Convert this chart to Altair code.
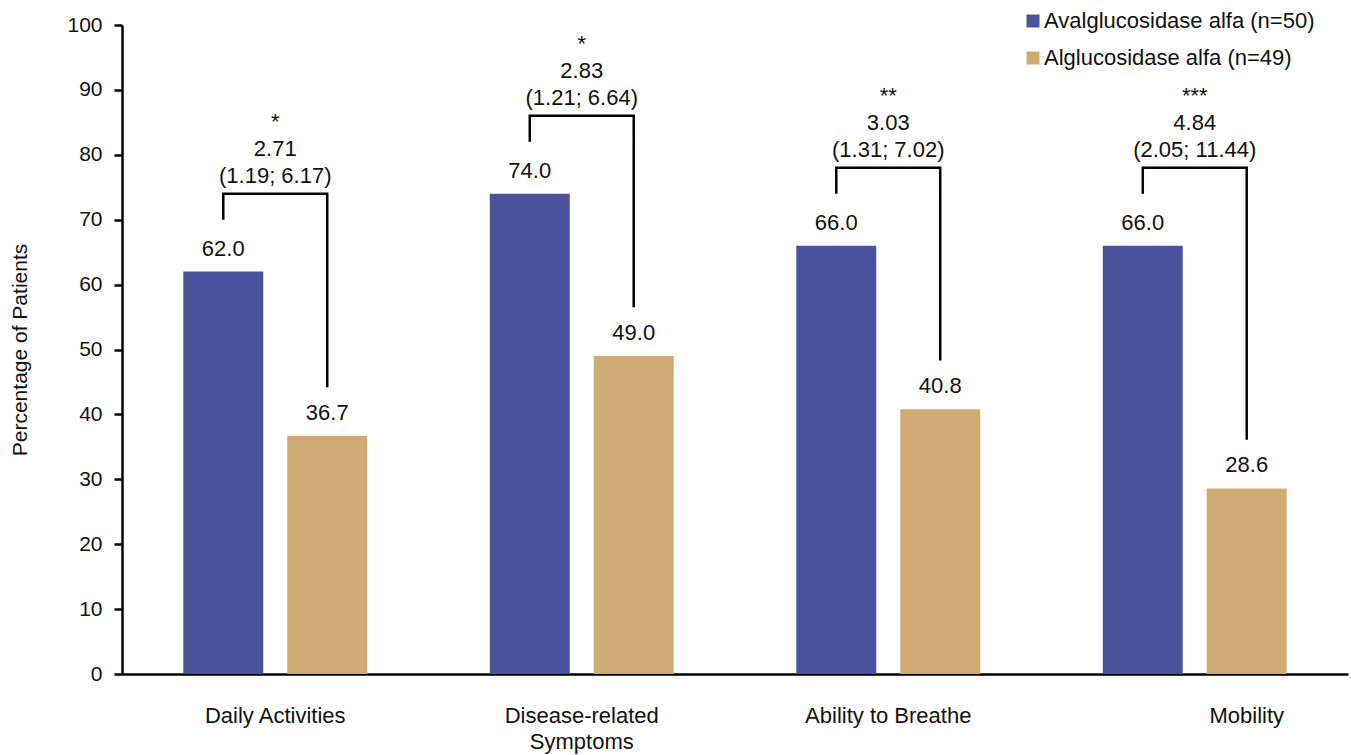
import altair as alt
import pandas as pd

# Responder rates by domain for the two treatment arms
categories = ["Daily Activities", "Disease-related Symptoms", "Ability to Breathe", "Mobility"]
category_lines = [["Daily Activities"], ["Disease-related", "Symptoms"], ["Ability to Breathe"], ["Mobility"]]
groups = ["Avalglucosidase alfa (n=50)", "Alglucosidase alfa (n=49)"]
aval_pct = [62.0, 74.0, 66.0, 66.0]
alg_pct = [36.7, 49.0, 40.8, 28.6]
odds_ratio = ["2.71", "2.83", "3.03", "4.84"]
conf_int = ["(1.19; 6.17)", "(1.21; 6.64)", "(1.31; 7.02)", "(2.05; 11.44)"]
stars = ["*", "*", "**", "***"]
colors = ["#4B529C", "#CFAA72"]

FONT = "Liberation Sans"
W, H = 1226, 649

# long table for the bars
bars_df = pd.DataFrame(
    [{"category": c, "group": groups[0], "pct": a} for c, a in zip(categories, aval_pct)]
    + [{"category": c, "group": groups[1], "pct": b} for c, b in zip(categories, alg_pct)]
)

# bracket paths: up from the first bar, across, down to the second bar
bracket_rows = []
for c, a, b in zip(categories, aval_pct, alg_pct):
    top = a + 12
    bracket_rows += [
        {"category": c, "group": groups[0], "pct": a + 8, "ord": 0},
        {"category": c, "group": groups[0], "pct": top, "ord": 1},
        {"category": c, "group": groups[1], "pct": top, "ord": 2},
        {"category": c, "group": groups[1], "pct": b + 7.5, "ord": 3},
    ]
bracket_df = pd.DataFrame(bracket_rows)

annot_df = pd.DataFrame({
    "category": categories,
    "pct": [a + 12 for a in aval_pct],
    "stars": stars,
    "or": odds_ratio,
    "ci": conf_int,
})

label_df = pd.DataFrame({"category": categories, "lines": category_lines, "group": groups[1]})

x_scale = alt.Scale(domain=categories, paddingInner=0.4, paddingOuter=0.2)
xo_scale = alt.Scale(domain=groups, paddingInner=0.231, paddingOuter=0)
y_scale = alt.Scale(domain=[0, 100], nice=False)

x_enc = alt.X("category:N", scale=x_scale,
              axis=alt.Axis(title=None, labels=False, ticks=False, domainColor="black", domainWidth=2.5))
x_plain = alt.X("category:N", scale=x_scale)
xo_enc = alt.XOffset("group:N", scale=xo_scale)
y_plain = alt.Y("pct:Q", scale=y_scale)

bars = alt.Chart(bars_df).mark_bar().encode(
    x=x_enc,
    xOffset=xo_enc,
    y=alt.Y("pct:Q", scale=y_scale,
            axis=alt.Axis(title="Percentage of Patients", values=list(range(0, 101, 10)),
                          grid=False, domainColor="black", domainWidth=2.5,
                          tickColor="black", tickWidth=2.5, tickSize=8,
                          labelFontSize=21, labelColor="#111", labelPadding=12, labelFont=FONT,
                          titleFontSize=21, titleFont=FONT, titleFontWeight="normal",
                          titleColor="#111", titlePadding=36)),
    color=alt.Color("group:N", scale=alt.Scale(domain=groups, range=colors),
                    legend=alt.Legend(title=None, orient="none", legendX=900, legendY=-15,
                                      symbolType="square", symbolSize=169, symbolStrokeWidth=0,
                                      labelFontSize=22, labelFont=FONT, labelColor="#111",
                                      labelOffset=0, rowPadding=15, padding=0, labelLimit=400)),
)

bar_labels = alt.Chart(bars_df).mark_text(
    fontSize=22, font=FONT, color="#111", baseline="middle", dy=-23
).encode(x=x_plain, xOffset=xo_enc, y=y_plain, text=alt.Text("pct:Q", format=".1f"))

brackets = alt.Chart(bracket_df).mark_line(
    color="black", strokeWidth=2.5, strokeJoin="miter", strokeCap="butt"
).encode(x=x_plain, xOffset=xo_enc, y=y_plain, order="ord:Q", detail="category:N")

ci_text = alt.Chart(annot_df).mark_text(
    fontSize=22, font=FONT, color="#111", baseline="middle", dy=-18
).encode(x=x_plain, y=y_plain, text="ci:N")

or_text = alt.Chart(annot_df).mark_text(
    fontSize=22, font=FONT, color="#111", baseline="middle", dy=-45
).encode(x=x_plain, y=y_plain, text="or:N")

star_text = alt.Chart(annot_df).mark_text(
    fontSize=22, font=FONT, color="#111", baseline="middle", dy=-72
).encode(x=x_plain, y=y_plain, text="stars:N")

# domain names under the axis; the last one sits under its second bar
cat_text = alt.Chart(label_df).transform_filter(
    alt.datum.category != categories[-1]
).mark_text(
    fontSize=22, font=FONT, color="#111", baseline="middle", lineHeight=26
).encode(x=x_plain, y=alt.value(H + 42), text="lines")

cat_text_last = alt.Chart(label_df).transform_filter(
    alt.datum.category == categories[-1]
).mark_text(
    fontSize=22, font=FONT, color="#111", baseline="middle", lineHeight=26
).encode(x=x_plain, xOffset=xo_enc, y=alt.value(H + 42), text="lines")

chart = alt.layer(
    bars, bar_labels, brackets, ci_text, or_text, star_text, cat_text, cat_text_last
).properties(
    width=W, height=H,
    autosize=alt.AutoSizeParams(type="none"),
    padding={"left": 122, "top": 25, "right": 3, "bottom": 81},
    background="white",
).configure_view(stroke=None)

chart.save("out.html", embed_options={"renderer": "svg", "actions": False})
